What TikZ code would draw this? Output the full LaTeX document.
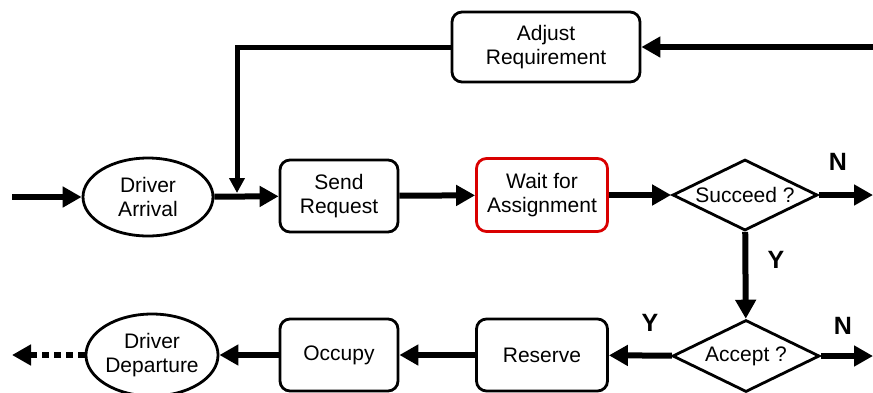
\documentclass[tikz,border=0pt]{standalone}
\usepackage{fontspec}
\setmainfont{Liberation Sans}
\usetikzlibrary{arrows.meta,shapes.geometric}
\begin{document}
\begin{tikzpicture}[x=1pt,y=-1pt,
  txt/.style={font=\fontsize{21}{24}\selectfont, align=center},
  procbox/.style={txt, draw, line width=2.8pt, rounded corners=10pt, inner sep=0pt},
  oval/.style={txt, draw, ellipse, line width=2.8pt, inner sep=0pt},
  decide/.style={txt, draw, diamond, line width=2.8pt, inner sep=0pt, aspect=2},
  flow/.style={line width=6pt, -{Triangle[length=19pt,width=20pt]}},
  lbl/.style={font=\fontsize{25}{28}\selectfont\bfseries, inner sep=0pt}
]
\useasboundingbox (0,0) rectangle (873,392);
\node[oval, minimum width=130pt, minimum height=78pt] (arr) at (148,197) {Driver\\Arrival};
\node[procbox, minimum width=118pt, minimum height=72pt] (send) at (339,196) {Send\\Request};
\node[procbox, draw=red!85!black, minimum width=131pt, minimum height=73pt] (wait) at (542,195) {Wait for\\Assignment};
\node[decide, minimum width=145pt, minimum height=71pt] (succ) at (745,195) {Succeed ?};
\node[procbox, minimum width=188pt, minimum height=70pt] (adj) at (546,47) {Adjust\\Requirement};
\node[decide, minimum width=147pt, minimum height=72pt] (acc) at (746,356) {Accept ?};
\node[procbox, minimum width=131pt, minimum height=72pt] (res) at (542,355) {Reserve};
\node[procbox, minimum width=118pt, minimum height=72pt] (occ) at (339,355) {Occupy};
\node[oval, minimum width=132pt, minimum height=82pt] (dep) at (152,355) {Driver\\Departure};

\coordinate (inL) at (12,197);
\coordinate (inR) at (873,47);
\coordinate (outN1) at (873,195);
\coordinate (outN2) at (873,356);
\coordinate (outL) at (12,355);
\coordinate (corner) at (237,47);
\coordinate (join) at (237,193);

\draw[flow] (inL) -- (arr);
\draw[flow] (arr) -- (send);
\draw[flow] (send) -- (wait);
\draw[flow] (wait) -- (succ);
\draw[flow] (succ) -- (outN1);
\draw[flow] (succ) -- (acc);
\draw[flow] (acc) -- (outN2);
\draw[flow] (acc) -- (res);
\draw[flow] (res) -- (occ);
\draw[flow] (occ) -- (dep);
\draw[flow, dash pattern=on 7pt off 5pt] (dep) -- (outL);
\draw[flow] (inR) -- (adj);
\draw[line width=5pt, -{Triangle[length=15pt,width=15pt]}] (adj.west) -- (corner) -- (join);

\node[lbl] (n1) at (838,162) {N};
\node[lbl] (y1) at (776,260) {Y};
\node[lbl] (y2) at (650,323) {Y};
\node[lbl] (n2) at (843,326) {N};
\end{tikzpicture}
\end{document}
